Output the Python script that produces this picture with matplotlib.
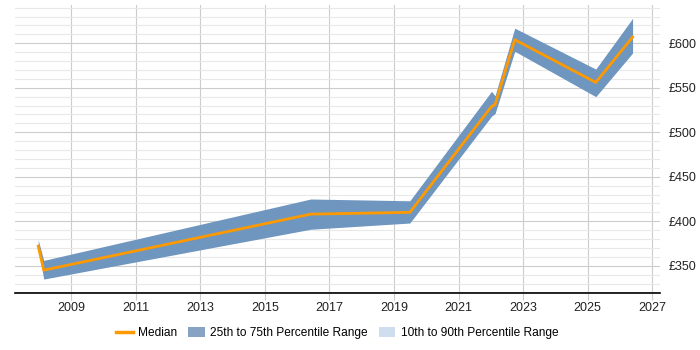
import matplotlib
matplotlib.use("Agg")
import matplotlib.pyplot as plt
from matplotlib.lines import Line2D
from matplotlib.patches import Patch
from matplotlib.ticker import MultipleLocator, FuncFormatter

plt.rcParams['font.family'] = ['Liberation Sans', 'DejaVu Sans']

# decimal years and salary percentiles (GBP)
years = [2007.98, 2008.15, 2016.42, 2019.49, 2022.02, 2022.13, 2022.74, 2025.25, 2026.39]
median = [372, 345, 408, 410, 529, 531, 604, 556, 607]
p25 = [371, 335, 391, 398, 518, 521, 591, 540, 589]
p75 = [379, 356, 425, 423, 546, 541, 617, 571, 628]

fig = plt.figure(figsize=(7, 3.5), dpi=100)
ax = fig.add_axes([0.0214, 0.1637, 0.9215, 0.822])

ax.fill_between(years, p25, p75, color='#6f96bf', linewidth=0, zorder=2)
ax.plot(years, median, color='#ff9900', linewidth=2, zorder=3)

ax.set_xlim(2007.26, 2027.24)
ax.set_ylim(319.7, 643)
ax.set_xticks(range(2009, 2028, 2))
ax.yaxis.set_major_locator(MultipleLocator(50))
ax.yaxis.set_minor_locator(MultipleLocator(10))
ax.yaxis.set_major_formatter(FuncFormatter(lambda v, p: f"£{v:.0f}"))
ax.yaxis.tick_right()

ax.grid(True, which='major', axis='both', color='#cccccc', linewidth=0.8, zorder=0)
ax.grid(True, which='minor', axis='y', color='#e8e8e8', linewidth=0.8, zorder=0)
ax.set_axisbelow(True)

for s in ['left', 'right', 'top']:
    ax.spines[s].set_visible(False)
ax.spines['bottom'].set_color('black')
ax.spines['bottom'].set_linewidth(1.2)

ax.tick_params(axis='x', length=5, color='#cccccc', labelsize=9, pad=2, labelcolor='#222222')
ax.tick_params(axis='y', which='both', length=0, labelsize=9, pad=6, labelcolor='#222222')

handles = [
    Line2D([], [], color='#ff9900', linewidth=2.5),
    Patch(facecolor='#86a3c3', edgecolor='none'),
    Patch(facecolor='#cedeee', edgecolor='none'),
]
labels = ['Median', '25th to 75th Percentile Range', '10th to 90th Percentile Range']
fig.legend(handles, labels, loc='center', bbox_to_anchor=(0.482, 0.048), ncol=3,
           frameon=False, fontsize=8.6, handlelength=1.4, handleheight=0.9,
           columnspacing=0.9, handletextpad=0.45)

fig.savefig('out.png', dpi=100)
